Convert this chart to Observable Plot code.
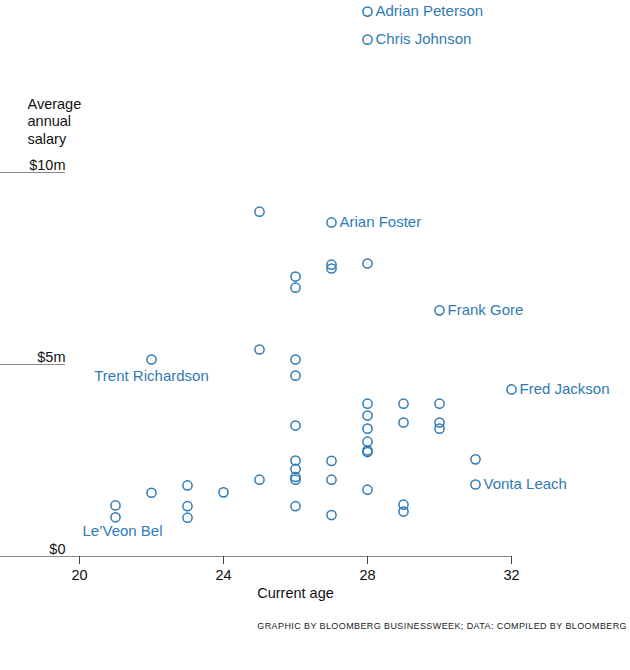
<!DOCTYPE html>
<html>
<head>
<meta charset="utf-8">
<script src="https://cdn.jsdelivr.net/npm/d3@7"></script>
<script src="https://cdn.jsdelivr.net/npm/@observablehq/plot@0.6"></script>
<style>
  html, body { margin: 0; padding: 0; background: #fff; }
  body { width: 630px; font-family: "Liberation Sans", Arial, sans-serif; }
  #caption { text-align: right; font-size: 9px; letter-spacing: 0.4px; color: #222; padding-right: 3px; margin-top: 11px; }
</style>
</head>
<body>
<div id="chart"></div>
<div id="caption">GRAPHIC BY BLOOMBERG BUSINESSWEEK; DATA: COMPILED BY BLOOMBERG</div>
<script>
// Current age of each player
const ages = [28, 28, 25, 27, 26, 26, 27, 27, 28, 30, 25, 22, 26, 26, 32,
  28, 29, 30, 28, 29, 30, 30, 26, 28, 28, 28, 28,
  26, 26, 26, 26, 26, 27, 27, 27, 25, 28, 29, 29, 31, 31,
  21, 21, 22, 23, 23, 23, 24];
// Average annual salary, $ millions
const salaries = [14.19, 13.46, 8.98, 8.70, 7.29, 7.00, 7.60, 7.50, 7.63, 6.41, 5.39, 5.13, 5.13, 4.71, 4.35,
  3.98, 3.98, 3.98, 3.67, 3.49, 3.49, 3.33, 3.41, 3.33, 2.99, 2.76, 2.72,
  2.50, 2.28, 2.07, 2.00, 1.31, 2.49, 2.00, 1.08, 2.00, 1.74, 1.35, 1.17, 2.53, 1.875,
  1.33, 1.02, 1.66, 1.85, 1.31, 1.01, 1.67];
// Labels (empty = unlabelled)
const names = ["Adrian Peterson", "Chris Johnson", "", "Arian Foster", "", "", "", "", "", "Frank Gore", "", "Trent Richardson", "", "", "Fred Jackson",
  "", "", "", "", "", "", "", "", "", "", "", "",
  "", "", "", "", "", "", "", "", "", "", "", "", "", "Vonta Leach",
  "", "Le\u2019Veon Bel", "", "", "", "", ""];

const xTicks = [20, 24, 28, 32];
const yTicks = [0, 5, 10];
const yTickLabels = ["$0", "$5m", "$10m"];

const players = ages.map((a, i) => ({age: a, salary: salaries[i], name: names[i]}));
const rightLabelled = players.filter(d => d.name && d.name !== "Trent Richardson" && d.name !== "Le\u2019Veon Bel");
const trent = players.filter(d => d.name === "Trent Richardson");
const bell = players.filter(d => d.name === "Le\u2019Veon Bel");

const blue = "#2f7ab5";
const xMin = 20 - 79 / 36;
const gridEnd = 20 - 14 / 36;

const chart = Plot.plot({
  width: 630,
  height: 610,
  marginLeft: 0,
  marginRight: 119,
  marginTop: 0,
  marginBottom: 54,
  style: {fontFamily: "Liberation Sans, Arial, sans-serif", fontSize: "14px", background: "#fff"},
  x: {domain: [xMin, 32], axis: null},
  y: {domain: [0, 556 / 38.4], axis: null},
  marks: [
    Plot.ruleY(yTicks.filter(v => v > 0), {x1: xMin, x2: gridEnd, stroke: "#8a8a8a", strokeWidth: 1}),
    Plot.ruleY([0], {stroke: "#8a8a8a", strokeWidth: 1.2}),
    Plot.axisX({ticks: xTicks, tickSize: 8, tickPadding: 5, stroke: "#444", fill: "#111", fontSize: 14.5, label: null}),
    Plot.text(["Current age"], {x: [26], frameAnchor: "bottom", dy: 37, lineAnchor: "middle", fill: "#111", fontSize: 14.5}),
    Plot.text(yTicks, {y: d => d, text: (d, i) => yTickLabels[i], frameAnchor: "left", dx: 65, dy: -3,
      textAnchor: "end", lineAnchor: "bottom", fill: "#111", fontSize: 14.5}),
    Plot.text(["Average\nannual\nsalary"], {frameAnchor: "top-left", dx: 27, dy: 96, textAnchor: "start",
      lineAnchor: "top", lineHeight: 1.2, fill: "#111", fontSize: 14.5}),
    Plot.dot(players, {x: "age", y: "salary", r: 4.6, stroke: blue, strokeWidth: 1.5, fill: "none"}),
    Plot.text(rightLabelled, {x: "age", y: "salary", text: "name", dx: 8, textAnchor: "start", fill: blue, fontSize: 15}),
    Plot.text(trent, {x: "age", y: "salary", text: "name", dy: 17, textAnchor: "middle", fill: blue, fontSize: 15}),
    Plot.text(bell, {x: "age", y: "salary", text: "name", dx: 7, dy: 14, textAnchor: "middle", fill: blue, fontSize: 15})
  ]
});
document.getElementById("chart").appendChild(chart);
</script>
</body>
</html>
